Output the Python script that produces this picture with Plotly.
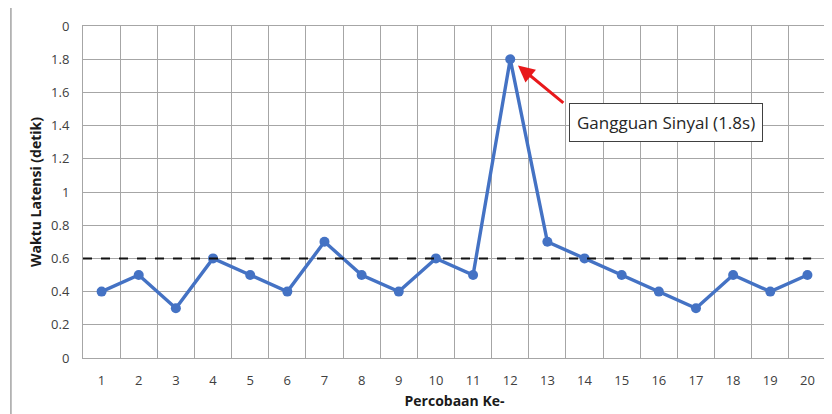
import plotly.graph_objects as go

trials = list(range(1, 21))
latency = [0.4, 0.5, 0.3, 0.6, 0.5, 0.4, 0.7, 0.5, 0.4, 0.6,
           0.5, 1.8, 0.7, 0.6, 0.5, 0.4, 0.3, 0.5, 0.4, 0.5]
threshold = 0.6
y_tickvals = [0, 0.2, 0.4, 0.6, 0.8, 1, 1.2, 1.4, 1.6, 1.8, 2]
y_ticktext = ["0", "0.2", "0.4", "0.6", "0.8", "1", "1.2", "1.4", "1.6", "1.8", "0"]
annot_text = "Gangguan Sinyal (1.8s)"
peak_x, peak_y = 12, 1.8

FONT = "Open Sans"
GRID = "#a6a6a6"

fig = go.Figure()
fig.add_trace(go.Scatter(
    x=trials, y=latency, mode="lines+markers",
    line=dict(color="#4472C4", width=3.4),
    marker=dict(color="#4472C4", size=10),
    showlegend=False, cliponaxis=False,
))

fig.add_shape(type="line", xref="x", yref="y", x0=0.5, x1=20.1, y0=threshold, y1=threshold,
              line=dict(color="#111111", width=2, dash="dash"), layer="above")

# left frame line
fig.add_shape(type="line", xref="paper", yref="paper", x0=-0.097, x1=-0.097, y0=-0.17, y1=1.055,
              line=dict(color="#8c8c8c", width=1.2))

# arrow
fig.add_annotation(x=peak_x, y=peak_y, ax=13.47, ay=1.53, axref="x", ayref="y",
                   text="", showarrow=True, arrowhead=2, arrowsize=1.1, arrowwidth=3,
                   arrowcolor="#e8191b", standoff=10)
# text box
fig.add_annotation(x=16.19, y=1.42, xref="x", yref="y", text=annot_text, showarrow=False,
                   font=dict(family=FONT, size=17, color="#262626"),
                   bordercolor="#404040", borderwidth=1, borderpad=7, bgcolor="white")

# page body has an 8px margin, so the figure is sized/offset accordingly
fig.update_layout(
    width=824, height=406,
    margin=dict(l=75, r=6, t=18, b=56, autoexpand=False),
    plot_bgcolor="white", paper_bgcolor="white",
    font=dict(family=FONT, size=12, color="#595959"),
)
fig.update_xaxes(
    range=[0.5, 20.5], tickvals=trials, showgrid=False, zeroline=False, automargin=False,
    minor=dict(tick0=0.5, dtick=1, showgrid=True, gridcolor=GRID, gridwidth=1),
    showline=True, linecolor=GRID, mirror=True, ticks="",
    tickfont=dict(size=13, color="#404040"), ticklabelstandoff=10,
    title=dict(text="<b>Percobaan Ke-</b>", font=dict(size=14, color="#1a1a1a"), standoff=8),
)
fig.update_yaxes(
    range=[0, 2], tickvals=y_tickvals, ticktext=y_ticktext, automargin=False,
    showgrid=True, gridcolor=GRID, gridwidth=1, zeroline=False,
    showline=True, linecolor=GRID, mirror=True, ticks="",
    tickfont=dict(size=13, color="#404040"), ticklabelstandoff=10,
    title=dict(text="<b>Waktu Latensi (detik)</b>", font=dict(size=14, color="#1a1a1a"), standoff=6),
)

fig.write_html("out.html")
